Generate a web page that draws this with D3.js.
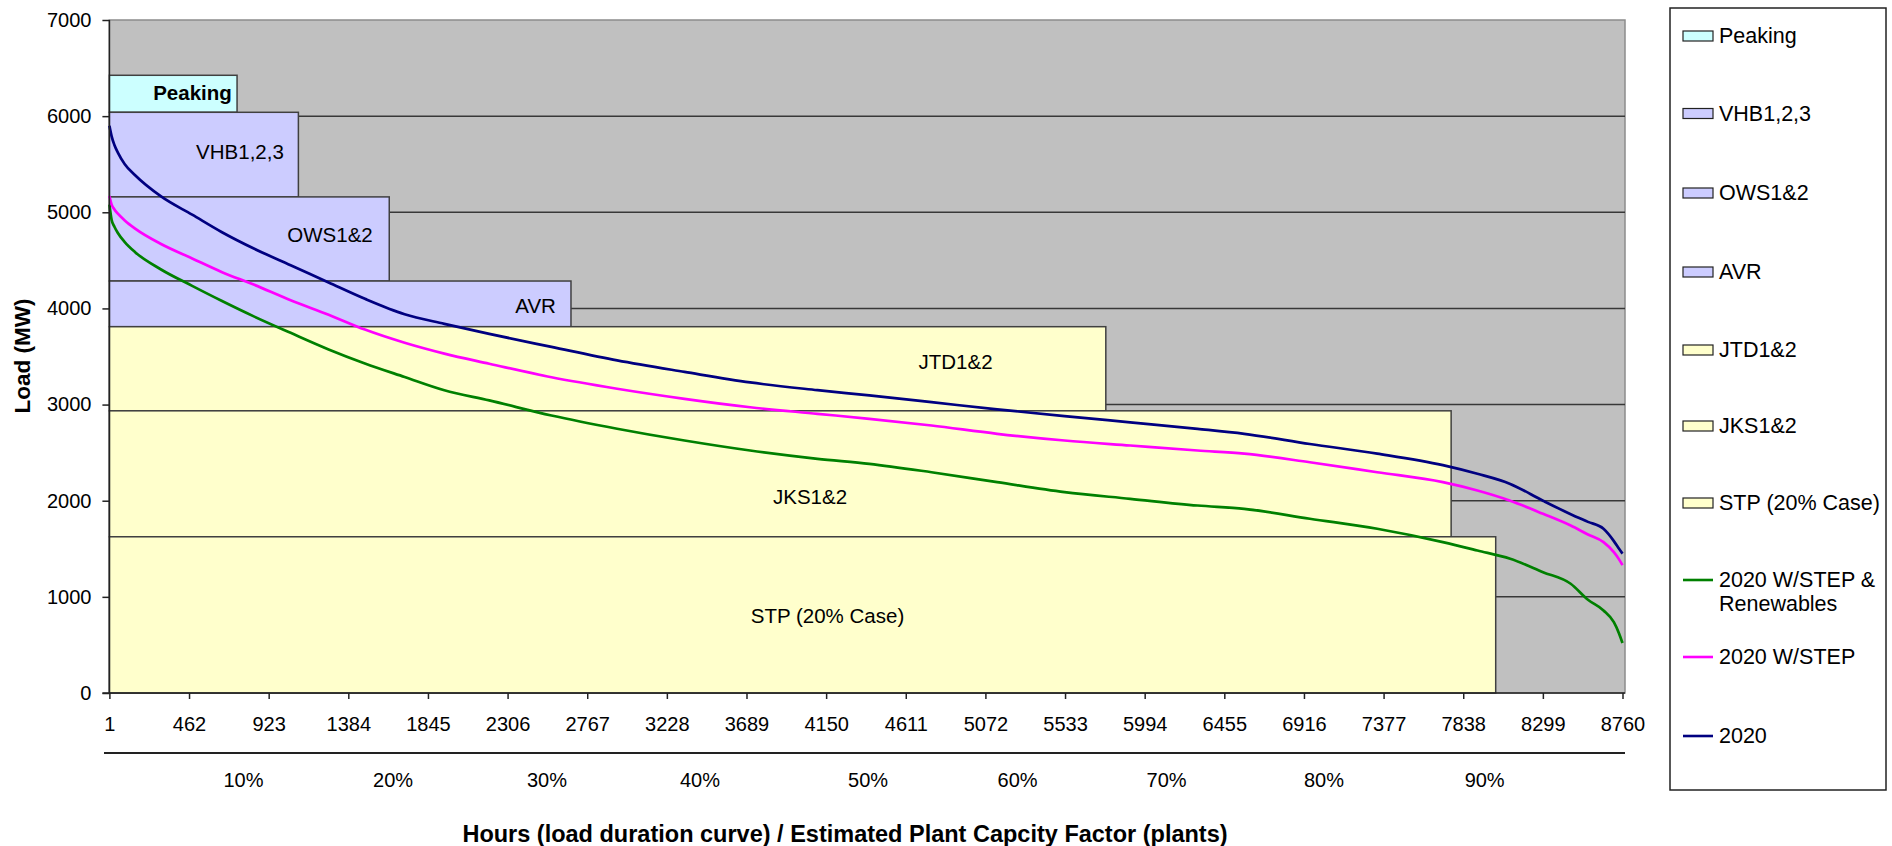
<!DOCTYPE html>
<html>
<head>
<meta charset="utf-8">
<script src="https://cdn.jsdelivr.net/npm/d3@7"></script>
<style>
  body { margin: 0; background: #ffffff; }
  svg { display: block; font-family: "Liberation Sans", Arial, sans-serif; }
</style>
</head>
<body>
<svg id="chart" width="1892" height="846"></svg>
<script>
// ---------------- DATA ----------------
const hours = [1,14,30,50,90,150,300,480,650,840,1050,1270,1480,1710,1940,2200,2560,2940,3330,3710,4100,4400,4760,5140,5530,5910,6300,6570,6950,7340,7720,7920,8110,8300,8460,8560,8650,8710,8740,8760];
const load2020 = [5900,5790,5700,5620,5500,5385,5165,4975,4795,4620,4450,4270,4100,3940,3840,3735,3600,3460,3340,3230,3150,3095,3025,2950,2880,2815,2748,2696,2590,2490,2370,2280,2175,2000,1860,1780,1708,1580,1500,1450];
const load2020Step = [5170,5080,5030,4985,4915,4830,4670,4520,4380,4245,4085,3935,3780,3643,3530,3425,3284,3165,3060,2972,2904,2852,2782,2696,2626,2574,2522,2490,2400,2296,2193,2106,2000,1864,1742,1649,1569,1465,1390,1330];
const load2020StepRen = [5080,4920,4850,4785,4690,4585,4405,4235,4080,3915,3746,3574,3428,3287,3149,3043,2886,2749,2626,2522,2436,2384,2296,2193,2089,2020,1950,1916,1812,1708,1569,1482,1396,1257,1136,970,859,737,620,520];

const seriesNames = ["2020 W/STEP & Renewables", "2020 W/STEP", "2020"];

const blockNames = ["Peaking","VHB1,2,3","OWS1&2","AVR","JTD1&2","JKS1&2","STP (20% Case)"];
const blockTop = [6425,6040,5160,4285,3810,2935,1625];
const blockBottom = [6040,5160,4285,3810,2935,1625,0];
const blockHours = [740,1095,1621,2673,5769,7768,8026];
const blockLabelHour = [482,757,1278,2468,4899,4057,4158];
const blockLabelLoad = [6241,5630,4771,4028,3446,2049,801];

const xTickValues = [1,462,923,1384,1845,2306,2767,3228,3689,4150,4611,5072,5533,5994,6455,6916,7377,7838,8299,8760];
const yTickValues = [0,1000,2000,3000,4000,5000,6000,7000];
const pctLabels = ["10%","20%","30%","40%","50%","60%","70%","80%","90%"];
const pctLabelHours = [777,1643,2534,3420,4393,5258,6121,7032,7962];

// ---------------- STYLES ----------------
const blockFill = ["#CCFFFF","#CCCCFF","#CCCCFF","#CCCCFF","#FFFFCC","#FFFFCC","#FFFFCC"];
const seriesColor = ["#008000","#FF00FF","#000080"];
const FONT = "Liberation Sans, Arial, sans-serif";

// ---------------- LAYOUT ----------------
const svg = d3.select("#chart");
const plotL = 109.4, plotR = 1625, plotT = 20, plotB = 693;
const x = d3.scaleLinear().domain([1, 8760]).range([plotL, 1622.5]);
const y = d3.scaleLinear().domain([0, 7000]).range([plotB, plotT]);

// plot background
svg.append("rect").attr("x", plotL).attr("y", plotT)
  .attr("width", plotR - plotL).attr("height", plotB - plotT)
  .attr("fill", "#C0C0C0").attr("stroke", "#8c8c8c").attr("stroke-width", 1.5);

// gridlines
svg.append("g").selectAll("line").data(yTickValues.filter(v => v > 0 && v < 7000)).join("line")
  .attr("x1", plotL).attr("x2", plotR)
  .attr("y1", d => y(d)).attr("y2", d => y(d))
  .attr("stroke", "#383838").attr("stroke-width", 1.5);

// blocks
svg.append("g").selectAll("rect").data(blockNames).join("rect")
  .attr("x", plotL)
  .attr("y", (d, i) => y(blockTop[i]))
  .attr("width", (d, i) => x(blockHours[i]) - plotL)
  .attr("height", (d, i) => y(blockBottom[i]) - y(blockTop[i]))
  .attr("fill", (d, i) => blockFill[i])
  .attr("stroke", "#404040").attr("stroke-width", 1.5);

// lines
const seriesData = [load2020StepRen, load2020Step, load2020];
const line = d3.line().x(d => x(d[0])).y(d => y(d[1])).curve(d3.curveMonotoneX);
svg.append("g").selectAll("path").data(seriesData).join("path")
  .attr("d", s => line(hours.map((h, i) => [h, s[i]])))
  .attr("fill", "none")
  .attr("stroke", (d, i) => seriesColor[i])
  .attr("stroke-width", 2.7)
  .attr("stroke-linejoin", "round");

// block labels
svg.append("g").selectAll("text").data(blockNames).join("text")
  .attr("x", (d, i) => x(blockLabelHour[i]))
  .attr("y", (d, i) => y(blockLabelLoad[i]))
  .attr("text-anchor", "middle")
  .attr("dominant-baseline", "central")
  .attr("font-size", 20.5)
  .attr("font-weight", (d, i) => i === 0 ? "bold" : "normal")
  .attr("fill", "#000")
  .text(d => d);

// axes
const yAxis = d3.axisLeft(y).tickValues(yTickValues).tickFormat(d3.format("d")).tickSize(7).tickPadding(11).tickSizeOuter(0);
const gy = svg.append("g").attr("transform", `translate(${plotL},0)`).call(yAxis);
gy.select(".domain").remove();
gy.selectAll("text").attr("font-size", 20).attr("font-family", FONT).attr("fill", "#000");
gy.selectAll("line").attr("stroke", "#222").attr("stroke-width", 1.5);

const xAxis = d3.axisBottom(x).tickValues(xTickValues).tickFormat(d3.format("d")).tickSize(6).tickPadding(18).tickSizeOuter(0);
const gx = svg.append("g").attr("transform", `translate(0,${plotB})`).call(xAxis);
gx.select(".domain").remove();
gx.selectAll("text").attr("font-size", 20).attr("font-family", FONT).attr("fill", "#000");
gx.selectAll("line").attr("stroke", "#222").attr("stroke-width", 1.5);

// axis lines
svg.append("line").attr("x1", plotL).attr("x2", plotL).attr("y1", plotT).attr("y2", plotB + 0.5)
  .attr("stroke", "#222").attr("stroke-width", 1.5);
svg.append("line").attr("x1", plotL - 7).attr("x2", plotR).attr("y1", plotB).attr("y2", plotB)
  .attr("stroke", "#222").attr("stroke-width", 1.5);

// secondary percentage axis
svg.append("line").attr("x1", 104).attr("x2", plotR).attr("y1", 753).attr("y2", 753)
  .attr("stroke", "#222").attr("stroke-width", 2);
svg.append("g").selectAll("text").data(pctLabels).join("text")
  .attr("x", (d, i) => x(pctLabelHours[i]))
  .attr("y", 780)
  .attr("text-anchor", "middle")
  .attr("dominant-baseline", "central")
  .attr("font-size", 20)
  .attr("fill", "#000")
  .text(d => d);

// axis titles
svg.append("text")
  .attr("transform", "translate(22,356) rotate(-90)")
  .attr("text-anchor", "middle").attr("dominant-baseline", "central")
  .attr("font-size", 22.5).attr("font-weight", "bold")
  .text("Load (MW)");
svg.append("text")
  .attr("x", 845).attr("y", 834)
  .attr("text-anchor", "middle").attr("dominant-baseline", "central")
  .attr("font-size", 23.5).attr("font-weight", "bold")
  .text("Hours (load duration curve) / Estimated Plant Capcity Factor (plants)");

// legend
const lg = svg.append("g");
lg.append("rect").attr("x", 1670).attr("y", 8).attr("width", 216).attr("height", 782)
  .attr("fill", "#fff").attr("stroke", "#222").attr("stroke-width", 1.5);
const legendY = [36, 113.5, 193, 272, 350, 426, 503, 580, 657, 736];
blockNames.forEach((name, i) => {
  lg.append("rect").attr("x", 1683).attr("y", legendY[i] - 5).attr("width", 30).attr("height", 10)
    .attr("fill", blockFill[i]).attr("stroke", "#222").attr("stroke-width", 1.2);
  lg.append("text").attr("x", 1719).attr("y", legendY[i]).attr("dominant-baseline", "central")
    .attr("font-size", 21.5).text(name);
});
seriesNames.forEach((name, i) => {
  const ly = legendY[7 + i];
  lg.append("line").attr("x1", 1683).attr("x2", 1713).attr("y1", ly).attr("y2", ly)
    .attr("stroke", seriesColor[i]).attr("stroke-width", 2.6);
  if (i === 0) {
    lg.append("text").attr("x", 1719).attr("y", ly).attr("dominant-baseline", "central")
      .attr("font-size", 21.5).text("2020 W/STEP &");
    lg.append("text").attr("x", 1719).attr("y", ly + 24).attr("dominant-baseline", "central")
      .attr("font-size", 21.5).text("Renewables");
  } else {
    lg.append("text").attr("x", 1719).attr("y", ly).attr("dominant-baseline", "central")
      .attr("font-size", 21.5).text(name);
  }
});
</script>
</body>
</html>
